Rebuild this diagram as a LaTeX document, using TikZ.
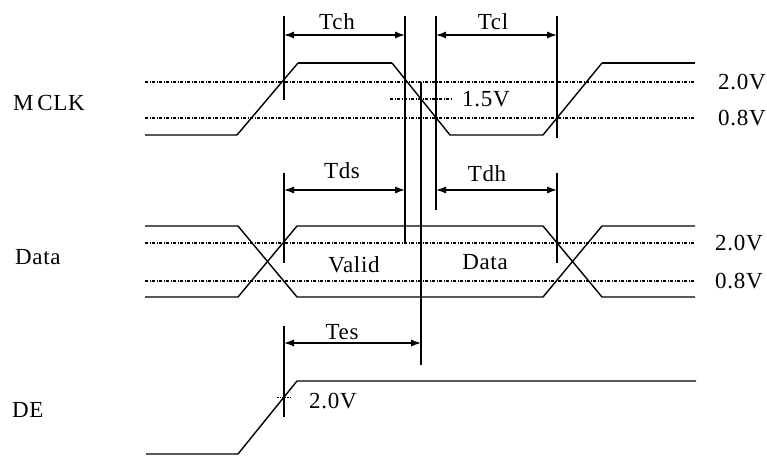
\documentclass[tikz,border=0pt]{standalone}
\usepackage{fontspec}
\setmainfont[LetterSpace=3]{Liberation Serif}
\usetikzlibrary{arrows.meta}
\begin{document}
\begin{tikzpicture}[x=1pt,y=-1pt,
  wave/.style={line width=1.4pt,line join=round},
  hiwave/.style={line width=2.4pt},
  thr/.style={line width=1.5pt,dash pattern=on 3pt off 1.5pt on 1pt off 1.5pt},
  tmark/.style={line width=1.4pt},
  dim/.style={line width=1.2pt,{Latex[length=10pt,width=7pt]}-{Latex[length=10pt,width=7pt]}},
  lbl/.style={font=\fontsize{23}{25}\selectfont,inner sep=0pt},
  sig/.style={lbl,anchor=west},
  lev/.style={lbl,anchor=west}]
\useasboundingbox (0,0) rectangle (767,457);
% ---- MCLK ----
\node[sig] (lmclk) at (13,103) {M\,CLK};
\draw[thr] (145,82) -- (695,82);
\draw[thr] (145,118) -- (695,118);
\draw[wave] (145,135) -- (237,135) -- (298,63);
\draw[hiwave] (298,63) -- (392,63);
\draw[wave] (392,63) -- (450,135) -- (543,135) -- (602,63);
\draw[hiwave] (602,63) -- (695,63);
\node[lev] (m20) at (718,82) {2.0V};
\node[lev] (m08) at (718,118) {0.8V};
\draw[thr] (390,99) -- (453,99);
\node[lev] (m15) at (462,99) {1.5V};
% ---- Data ----
\node[sig] (ldata) at (15,257) {Data};
\draw[thr] (145,243) -- (695,243);
\draw[thr] (145,281) -- (695,281);
\draw[wave] (145,226) -- (238,226) -- (297,297) -- (543,297) -- (602,226) -- (695,226);
\draw[wave] (145,297) -- (238,297) -- (297,226) -- (543,226) -- (602,297) -- (695,297);
\node[lev] (d20) at (715,243) {2.0V};
\node[lev] (d08) at (715,281) {0.8V};
\node[lbl] (valid) at (354,265) {Valid};
\node[lbl] (dtext) at (485,262) {Data};
% ---- DE ----
\node[sig] (lde) at (12,410) {DE};
\draw[wave] (146,454) -- (238,454) -- (297,381) -- (696,381);
\draw[line width=1pt,dash pattern=on 1.5pt off 1pt] (277,397) -- (292,397);
\node[lev] (e20) at (309,401) {2.0V};
% ---- timing marks ----
\coordinate (a1) at (284,16);  \coordinate (a2) at (284,100);
\coordinate (b1) at (405,16);  \coordinate (b2) at (405,242);
\coordinate (c1) at (421,82);  \coordinate (c2) at (421,365);
\coordinate (e1) at (436,16);  \coordinate (e2) at (436,210);
\coordinate (f1) at (557,16);  \coordinate (f2) at (557,138);
\coordinate (g1) at (284,173); \coordinate (g2) at (284,263);
\coordinate (h1) at (557,173); \coordinate (h2) at (557,263);
\coordinate (k1) at (284,326); \coordinate (k2) at (284,417);
\foreach \p in {a,b,c,e,f,g,h,k} \draw[tmark] (\p1) -- (\p2);
% Tch
\coordinate (tch1) at (284,35); \coordinate (tch2) at (405,35);
\draw[dim] (tch1) -- (tch2);
\node[lbl] (tch) at (337,22) {Tch};
% Tcl
\coordinate (tcl1) at (436,35); \coordinate (tcl2) at (557,35);
\draw[dim] (tcl1) -- (tcl2);
\node[lbl] (tcl) at (493,22) {Tcl};
% Tds
\coordinate (tds1) at (284,190); \coordinate (tds2) at (405,190);
\draw[dim] (tds1) -- (tds2);
\node[lbl] (tds) at (342,171) {Tds};
% Tdh
\coordinate (tdh1) at (436,190); \coordinate (tdh2) at (557,190);
\draw[dim] (tdh1) -- (tdh2);
\node[lbl] (tdh) at (487,174) {Tdh};
% Tes
\coordinate (tes1) at (284,343); \coordinate (tes2) at (421,343);
\draw[dim] (tes1) -- (tes2);
\node[lbl] (tes) at (342,332) {Tes};
\end{tikzpicture}
\end{document}
